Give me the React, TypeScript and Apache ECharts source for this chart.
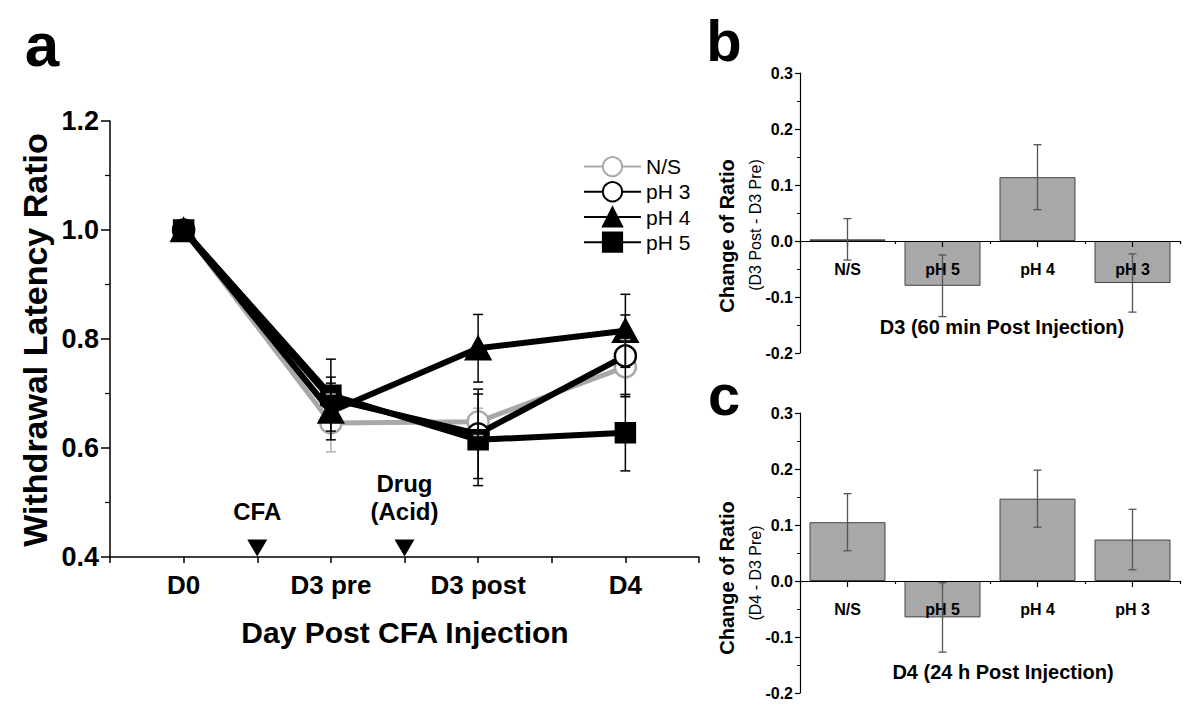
import React, { useEffect, useRef } from 'react';
import * as echarts from 'echarts';

// ---------- data ----------
const days = ['D0', 'D3 pre', 'D3 post', 'D4'];
const groupNames = ['N/S', 'pH 3', 'pH 4', 'pH 5'];
const nsRatio = [1.0, 0.646, 0.648, 0.749];
const ph3Ratio = [1.0, 0.69, 0.626, 0.769];
const ph4Ratio = [1.0, 0.667, 0.783, 0.815];
const ph5Ratio = [1.0, 0.697, 0.615, 0.628];
const nsSem = [0, 0.053, 0.025, 0.05];
const ph3Sem = [0, 0.04, 0.082, 0.075];
const ph4Sem = [0, 0.052, 0.062, 0.067];
const ph5Sem = [0, 0.066, 0.084, 0.07];
const eventLabels = ['CFA', 'Drug\n(Acid)'];
const eventDayIndex = [0.5, 1.5]; // between D0/D3 pre and D3 pre/D3 post

const barGroups = ['N/S', 'pH 5', 'pH 4', 'pH 3'];
const d3Change = [0.003, -0.08, 0.114, -0.075];
const d3Sem = [0.037, 0.055, 0.058, 0.052];
const d4Change = [0.105, -0.065, 0.147, 0.074];
const d4Sem = [0.051, 0.062, 0.051, 0.054];
const changeMin = -0.2;
const changeMax = 0.3;

// ---------- styles ----------
const FONT = '"Liberation Sans", Arial, Helvetica, sans-serif';
const GRAY = '#a8a8a8';
const groupStyles = [
  { line: GRAY, width: 5, symbol: 'circle', size: 21, fill: '#ffffff', border: GRAY, err: '#b0b0b0' },
  { line: '#000000', width: 6, symbol: 'circle', size: 21, fill: '#ffffff', border: '#000000', err: '#000000' },
  { line: '#000000', width: 6, symbol: 'triangle', size: [24, 22], fill: '#000000', border: '#000000', err: '#000000' },
  { line: '#000000', width: 6, symbol: 'rect', size: 19, fill: '#000000', border: '#000000', err: '#000000' },
];
const ratioSets = [nsRatio, ph3Ratio, ph4Ratio, ph5Ratio];
const semSets = [nsSem, ph3Sem, ph4Sem, ph5Sem];
const BAR_GRID_H = 280;

const dayX = (i: number) => 2 * i + 1;

const errorBar = (color: string, capHalf: number, lw: number) => (params: any, api: any) => {
  const x = api.value(0);
  const y = api.value(1);
  const e = api.value(2);
  if (!e) return null;
  const hi = api.coord([x, y + e]);
  const lo = api.coord([x, y - e]);
  const style = { stroke: color, lineWidth: lw };
  return {
    type: 'group',
    children: [
      { type: 'line', shape: { x1: hi[0], y1: hi[1], x2: lo[0], y2: lo[1] }, style },
      { type: 'line', shape: { x1: hi[0] - capHalf, y1: hi[1], x2: hi[0] + capHalf, y2: hi[1] }, style },
      { type: 'line', shape: { x1: lo[0] - capHalf, y1: lo[1], x2: lo[0] + capHalf, y2: lo[1] }, style },
    ],
  };
};

const axisLineStyle = { lineStyle: { color: '#000', width: 1.5 } };

function buildOption() {
  const lineSeries = groupNames.map((name, g) => {
    const st = groupStyles[g];
    return {
      type: 'line',
      name,
      xAxisIndex: 0,
      yAxisIndex: 0,
      data: days.map((_, i) => [dayX(i), ratioSets[g][i]]),
      symbol: st.symbol,
      symbolSize: st.size,
      itemStyle: { color: st.fill, borderColor: st.border, borderWidth: 2.5 },
      lineStyle: { color: st.line, width: st.width },
      z: 2 + g * 0.1,
    };
  });
  const errSeries = groupNames.map((name, g) => ({
    type: 'custom',
    name: name + ' SEM',
    xAxisIndex: 0,
    yAxisIndex: 0,
    encode: { x: 0, y: 1 },
    data: days.map((_, i) => [dayX(i), ratioSets[g][i], semSets[g][i]]),
    renderItem: errorBar(groupStyles[g].err, 5, 1.5),
    z: 4,
    silent: true,
  }));
  const eventSeries = {
    type: 'scatter',
    xAxisIndex: 0,
    yAxisIndex: 0,
    data: eventDayIndex.map((d) => [dayX(d), 0.4]),
    symbol: 'triangle',
    symbolRotate: 180,
    symbolSize: [20, 17],
    symbolOffset: [0, -9],
    itemStyle: { color: '#000', opacity: 1 },
    label: {
      show: true,
      position: 'top',
      distance: 14,
      formatter: (p: any) => eventLabels[p.dataIndex],
      fontFamily: FONT,
      fontWeight: 'bold',
      fontSize: 24,
      lineHeight: 28,
      color: '#000',
      opacity: 1,
    },
    z: 3,
  };

  const barPanel = (vals: number[], sems: number[], xIdx: number, yIdx: number) => [
    {
      type: 'bar',
      xAxisIndex: xIdx,
      yAxisIndex: yIdx,
      data: vals,
      barWidth: '80%',
      itemStyle: { color: GRAY, borderColor: '#444', borderWidth: 1 },
      z: 2,
    },
    {
      type: 'custom',
      xAxisIndex: xIdx,
      yAxisIndex: yIdx,
      encode: { x: 0, y: 1 },
      data: vals.map((v, i) => [i, v, sems[i]]),
      renderItem: errorBar('#555555', 4, 1.3),
      z: 8,
      silent: true,
    },
  ];

  const barYAxis = (gridIndex: number) => ({
    type: 'value',
    gridIndex,
    min: changeMin,
    max: changeMax,
    interval: 0.1,
    splitLine: { show: false },
    axisLine: { show: true, onZero: false, lineStyle: { color: '#000', width: 1.2 } },
    axisTick: { show: true, length: 5, lineStyle: { color: '#000', width: 1.2 } },
    minorTick: { show: true, splitNumber: 2, length: 3, lineStyle: { color: '#000', width: 1 } },
    axisLabel: {
      formatter: (v: number) => v.toFixed(1),
      fontFamily: FONT,
      fontWeight: 'bold',
      fontSize: 16,
      color: '#000',
      margin: 7,
    },
  });
  // place the category axis on the zero line of the value axis
  const zeroOffset = -BAR_GRID_H * (0 - changeMin) / (changeMax - changeMin);
  const barXAxes = (gridIndex: number) => [
    {
      type: 'category',
      gridIndex,
      data: barGroups,
      position: 'bottom',
      offset: zeroOffset,
      axisLine: { onZero: false, lineStyle: { color: '#000', width: 1.2 } },
      axisTick: { show: true, length: 3, lineStyle: { color: '#000', width: 1.2 } },
      axisLabel: { fontFamily: FONT, fontWeight: 'bold', fontSize: 16, color: '#000', margin: 20 },
      z: 5,
    },
    {
      type: 'category',
      gridIndex,
      data: barGroups,
      position: 'bottom',
      offset: zeroOffset,
      axisLine: { show: false, onZero: false },
      axisTick: { show: true, alignWithLabel: true, length: 6, lineStyle: { color: '#000', width: 1.2 } },
      axisLabel: { show: false },
      z: 5,
    },
  ];

  const txt = (text: string, x: number, y: number, size: number, bold = true, rot = 0) => ({
    type: 'text',
    x,
    y,
    rotation: rot,
    style: {
      text,
      fill: '#000',
      fontFamily: FONT,
      fontSize: size,
      fontWeight: bold ? 'bold' : 'normal',
      align: 'center',
      verticalAlign: 'middle',
      textAlign: 'center',
      textVerticalAlign: 'middle',
    },
  });

  return {
    animation: false,
    backgroundColor: '#ffffff',
    textStyle: { fontFamily: FONT },
    grid: [
      { left: 110, top: 121, width: 589, height: 436 },
      { left: 800, top: 73, width: 380, height: BAR_GRID_H },
      { left: 800, top: 413, width: 380, height: BAR_GRID_H },
    ],
    legend: {
      data: groupNames,
      orient: 'vertical',
      left: 583,
      top: 156,
      itemWidth: 57,
      itemHeight: 24,
      itemGap: 4,
      padding: 0,
      textStyle: { fontFamily: FONT, fontSize: 21, color: '#000' },
    },
    xAxis: [
      {
        type: 'value',
        gridIndex: 0,
        min: 0,
        max: 8,
        interval: 1,
        splitLine: { show: false },
        axisLine: { show: true, onZero: false, ...axisLineStyle },
        axisTick: { show: true, length: 6, lineStyle: { color: '#000', width: 1.5 } },
        axisLabel: {
          formatter: (v: number) => (v % 2 === 1 ? days[(v - 1) / 2] : ''),
          fontFamily: FONT,
          fontWeight: 'bold',
          fontSize: 26,
          color: '#000',
          margin: 15,
          showMaxLabel: true,
        },
      },
      ...barXAxes(1),
      ...barXAxes(2),
    ],
    yAxis: [
      {
        type: 'value',
        gridIndex: 0,
        min: 0.4,
        max: 1.2,
        interval: 0.2,
        splitLine: { show: false },
        axisLine: { show: true, onZero: false, ...axisLineStyle },
        axisTick: { show: true, length: 9, lineStyle: { color: '#000', width: 1.5 } },
        minorTick: { show: true, splitNumber: 2, length: 5, lineStyle: { color: '#000', width: 1.2 } },
        axisLabel: {
          formatter: (v: number) => v.toFixed(1),
          fontFamily: FONT,
          fontWeight: 'bold',
          fontSize: 27,
          color: '#000',
          margin: 11,
        },
      },
      barYAxis(1),
      barYAxis(2),
    ],
    series: [
      ...lineSeries,
      ...errSeries,
      eventSeries,
      ...barPanel(d3Change, d3Sem, 1, 1),
      ...barPanel(d4Change, d4Sem, 3, 2),
    ],
    graphic: [
      txt('a', 42, 44, 62),
      txt('b', 724, 40, 58),
      txt('c', 724, 394, 58),
      txt('Withdrawal Latency Ratio', 35, 340, 34, true, Math.PI / 2),
      txt('Day Post CFA Injection', 405, 632, 30),
      txt('Change of Ratio', 727, 236, 20, true, Math.PI / 2),
      txt('(D3 Post - D3 Pre)', 755, 225, 16, false, Math.PI / 2),
      txt('D3 (60 min Post Injection)', 1002, 327, 20),
      txt('Change of Ratio', 727, 578, 20, true, Math.PI / 2),
      txt('(D4 - D3 Pre)', 755, 573, 16, false, Math.PI / 2),
      txt('D4 (24 h Post Injection)', 1003, 672, 20),
    ],
  };
}

export default function App() {
  const ref = useRef<HTMLDivElement>(null);
  useEffect(() => {
    if (!ref.current) return;
    const chart = echarts.init(ref.current, undefined, { renderer: 'svg' });
    chart.setOption(buildOption() as any);
    return () => chart.dispose();
  }, []);
  return (
    <div
      ref={ref}
      style={{ position: 'absolute', left: 0, top: 0, width: 1200, height: 720, background: '#fff' }}
    />
  );
}
